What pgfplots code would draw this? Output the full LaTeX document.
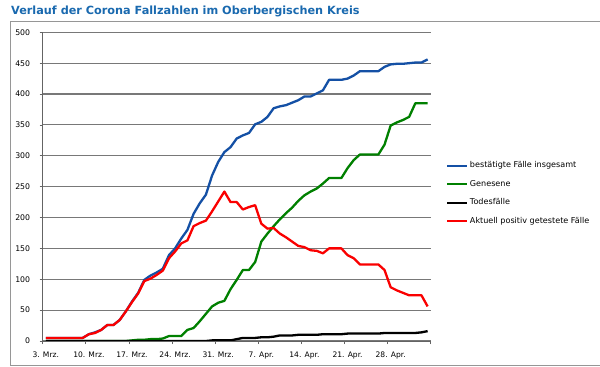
\documentclass[border=0pt]{standalone}
\usepackage{pgfplots}
\pgfplotsset{compat=1.18}
\usepackage{pgfplotstable}
\usepackage{fontspec}
\setmainfont{DejaVu Sans}
\definecolor{cblue}{RGB}{20,80,165}
\definecolor{cgreen}{RGB}{0,128,0}
\definecolor{cred}{RGB}{250,0,0}
\definecolor{ctitle}{RGB}{25,105,175}
\definecolor{gridgray}{RGB}{120,120,120}
\definecolor{axisgray}{RGB}{100,100,100}
\definecolor{framegray}{RGB}{150,150,150}
\pgfplotstableread{
d blue green black red
0 5 0 0 5
1 5 0 0 5
2 5 0 0 5
3 5 0 0 5
4 5 0 0 5
5 5 0 0 5
6 5 0 0 5
7 11 0 0 11
8 14 0 0 13
9 18 0 0 18
10 26 0 0 26
11 26 0 0 26
12 34 0 0 34
13 48 0 0 48
14 64 1 0 63
15 78 2 0 77
16 99 2 0 97
17 106 3 0 101
18 111 3 0 107
19 117 4 0 114
20 139 8 0 134
21 150 8 0 145
22 166 8 0 158
23 180 18 0 163
24 206 21 0 186
25 223 32 0 191
26 237 44 0 195
27 268 56 1 210
28 290 62 1 226
29 306 65 1 242
30 314 84 1 225
31 328 99 3 225
32 333 115 5 213
33 337 115 5 217
34 351 128 5 220
35 355 161 6 190
36 363 174 6 182
37 377 186 7 183
38 380 197 9 174
39 382 207 9 168
40 386 216 9 161
41 390 227 10 154
42 396 236 10 152
43 396 242 10 147
44 401 247 10 146
45 406 255 11 142
46 423 264 11 150
47 423 264 11 150
48 423 264 11 150
49 425 280 12 139
50 430 293 12 134
51 437 302 12 124
52 437 302 12 124
53 437 302 12 124
54 437 302 12 124
55 444 318 13 115
56 448 349 13 87
57 449 354 13 82
58 449 358 13 78
59 450 363 13 74
60 451 385 13 74
61 451 385 14 74
62 456 385 16 56
}\data
\begin{document}
\begin{tikzpicture}
\useasboundingbox (0bp,0bp) rectangle (600bp,367bp);
\fill[white] (0bp,0bp) rectangle (600bp,367bp);
\draw[framegray, line width=0.8bp] (610bp,2bp) -- (10bp,2bp) -- (10bp,346bp) -- (610bp,346bp);
\node[anchor=west, inner sep=0pt, font=\bfseries\fontsize{11.3}{13}\selectfont, text=ctitle] at (11bp,355.3bp) {Verlauf der Corona Fallzahlen im Oberbergischen Kreis};
\begin{axis}[
  at={(42.7bp,26bp)}, anchor=south west, scale only axis,
  width=388bp, height=308.7bp,
  xmin=-0.5, xmax=62.5, ymin=0, ymax=500,
  axis x line*=bottom, axis y line*=left,
  x axis line style={draw=axisgray, line width=1bp},
  y axis line style={draw=axisgray, line width=1bp},
  ytick={0,50,...,500},
  ymajorgrids, grid style={draw=gridgray, line width=1.1bp},
  xtick={-0.5,6.5,...,62.5}, xticklabels={},
  extra x ticks={0,7,...,56},
  extra x tick labels={3. Mrz.,10. Mrz.,17. Mrz.,24. Mrz.,31. Mrz.,7. Apr.,14. Apr.,21. Apr.,28. Apr.},
  extra x tick style={major tick length=0pt, grid=none},
  tick align=outside, major tick length=3bp,
  tick style={draw=axisgray, line width=0.8bp},
  xticklabel style={font=\fontsize{7.6}{9}\selectfont, anchor=base, yshift=-16bp, inner sep=0pt},
  yticklabel style={font=\fontsize{7.8}{9}\selectfont, anchor=east, inner sep=0pt, xshift=-9.4bp},
  /pgf/number format/assume math mode=true,
  every axis plot/.append style={line width=2.3bp, line join=round, no marks},
  legend cell align=left,
  legend style={at={(1.0394,0.478)}, anchor=west, draw=none, fill=none, inner sep=0pt,
    font=\fontsize{8.1}{9}\selectfont, row sep=11bp,
    nodes={inner xsep=1.5bp, inner ysep=0pt, text height=6bp, text depth=1.5bp, anchor=west}},
  legend image code/.code={\draw[#1] (0bp,0bp) -- (20bp,0bp);},
]
\addplot[cblue] table[x=d, y=blue] {\data};
\addlegendentry{bestätigte Fälle insgesamt}
\addplot[cgreen] table[x=d, y=green] {\data};
\addlegendentry{Genesene}
\addplot[black] table[x=d, y=black] {\data};
\addlegendentry{Todesfälle}
\addplot[cred] table[x=d, y=red] {\data};
\addlegendentry{Aktuell positiv getestete Fälle}
\end{axis}
\end{tikzpicture}
\end{document}
